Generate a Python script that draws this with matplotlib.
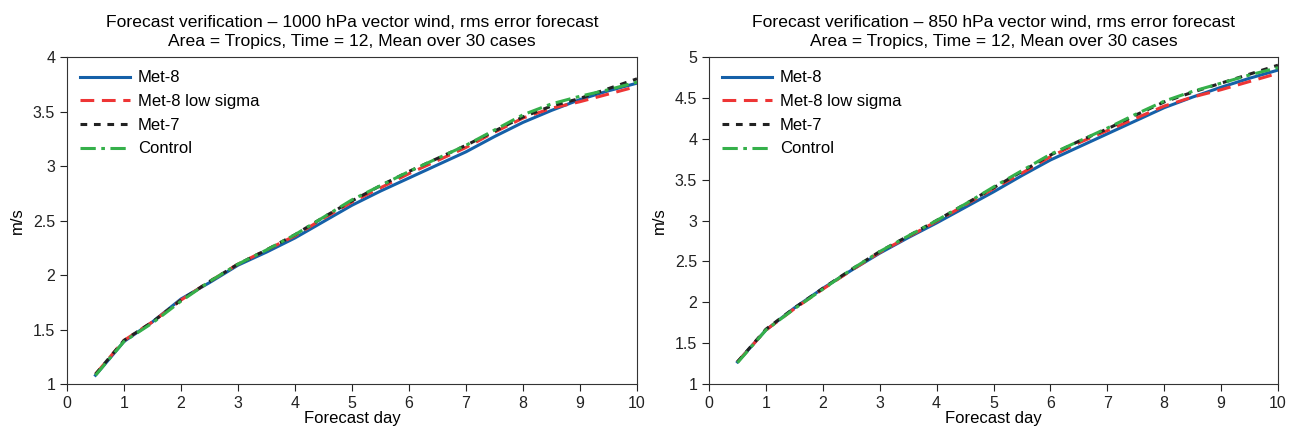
import matplotlib.pyplot as plt

plt.rcParams['font.family'] = ['Liberation Sans', 'DejaVu Sans']

days = [0.5, 1, 1.5, 2, 2.5, 3, 3.5, 4, 4.5, 5, 5.5, 6, 6.5, 7, 7.5, 8, 8.5, 9, 9.5, 10]

# 1000 hPa
met8_1000 = [1.08, 1.39, 1.57, 1.78, 1.93, 2.09, 2.21, 2.34, 2.49, 2.64, 2.77, 2.89, 3.01, 3.13, 3.27, 3.40, 3.51, 3.61, 3.69, 3.76]
lowsig_1000 = [1.09, 1.40, 1.57, 1.77, 1.94, 2.10, 2.23, 2.36, 2.52, 2.67, 2.80, 2.93, 3.05, 3.17, 3.31, 3.44, 3.53, 3.59, 3.66, 3.73]
met7_1000 = [1.09, 1.40, 1.57, 1.77, 1.94, 2.10, 2.23, 2.37, 2.53, 2.68, 2.82, 2.95, 3.07, 3.19, 3.32, 3.45, 3.55, 3.62, 3.71, 3.80]
control_1000 = [1.08, 1.39, 1.56, 1.76, 1.94, 2.10, 2.23, 2.37, 2.53, 2.69, 2.82, 2.95, 3.07, 3.19, 3.33, 3.47, 3.57, 3.64, 3.70, 3.77]

# 850 hPa
met8_850 = [1.27, 1.66, 1.93, 2.17, 2.39, 2.60, 2.79, 2.97, 3.16, 3.35, 3.55, 3.74, 3.90, 4.06, 4.22, 4.38, 4.51, 4.63, 4.74, 4.84]
lowsig_850 = [1.27, 1.66, 1.92, 2.16, 2.39, 2.61, 2.80, 2.99, 3.19, 3.39, 3.58, 3.78, 3.95, 4.10, 4.25, 4.40, 4.51, 4.60, 4.70, 4.80]
met7_850 = [1.27, 1.67, 1.93, 2.17, 2.40, 2.62, 2.81, 3.00, 3.20, 3.40, 3.60, 3.80, 3.97, 4.12, 4.29, 4.45, 4.57, 4.68, 4.79, 4.90]
control_850 = [1.26, 1.66, 1.92, 2.16, 2.40, 2.62, 2.81, 3.00, 3.20, 3.41, 3.61, 3.81, 3.97, 4.13, 4.30, 4.46, 4.58, 4.68, 4.78, 4.87]

labels = ['Met-8', 'Met-8 low sigma', 'Met-7', 'Control']
styles = [
    dict(color='#1560a8', linestyle='-', linewidth=2.2),
    dict(color='#ee3535', linestyle=(0, (4.5, 2.5)), linewidth=2.2),
    dict(color='#222222', linestyle=(0, (2.2, 2.2)), linewidth=2.2),
    dict(color='#35b04a', linestyle=(0, (5, 1.8, 1.2, 1.8)), linewidth=2.2),
]


def draw_panel(ax, series, level, ymax, yticks, yticklabels):
    for vals, lab, st in zip(series, labels, styles):
        ax.plot(days, vals, label=lab, **st)
    ax.set_xlim(0, 10)
    ax.set_ylim(1, ymax)
    ax.set_xticks(range(0, 11))
    ax.set_yticks(yticks)
    ax.set_yticklabels(yticklabels)
    ax.tick_params(direction='out', length=5, labelsize=11.5, colors='#222222')
    ax.set_xlabel('Forecast day', fontsize=12, labelpad=0)
    ax.set_ylabel('m/s', fontsize=12, labelpad=6)
    ax.set_title('Forecast verification \u2013 %s hPa vector wind, rms error forecast\n'
                 'Area = Tropics, Time = 12, Mean over 30 cases' % level,
                 fontsize=12.6, linespacing=1.32, pad=8)
    for s in ax.spines.values():
        s.set_color('#333333')
    ax.legend(loc='upper left', frameon=False, fontsize=12, handlelength=3.0,
              handletextpad=0.45, labelspacing=0.52, borderaxespad=0.4)


fig = plt.figure(figsize=(12.99, 4.36), dpi=100)
ax1 = fig.add_axes([67 / 1299, 1 - 384 / 436, 570 / 1299, 327 / 436])
ax2 = fig.add_axes([709 / 1299, 1 - 384 / 436, 569 / 1299, 327 / 436])

draw_panel(ax1, [met8_1000, lowsig_1000, met7_1000, control_1000], '1000', 4,
           [1, 1.5, 2, 2.5, 3, 3.5, 4], ['1', '1.5', '2', '2.5', '3', '3.5', '4'])
draw_panel(ax2, [met8_850, lowsig_850, met7_850, control_850], '850', 5,
           [1, 1.5, 2, 2.5, 3, 3.5, 4, 4.5, 5],
           ['1', '1.5', '2', '2.5', '3', '3.5', '4', '4.5', '5'])

fig.savefig('out.png', dpi=100)
